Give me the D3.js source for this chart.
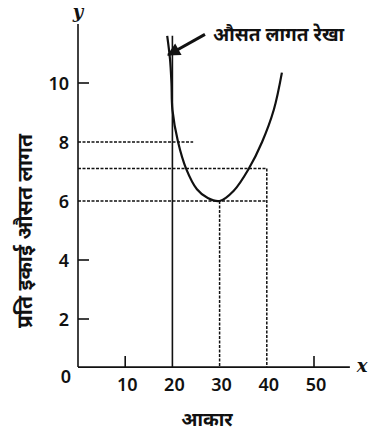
<!DOCTYPE html>
<html>
<head>
<meta charset="utf-8">
<script src="https://cdn.jsdelivr.net/npm/d3@7"></script>
<style>
  body { margin: 0; background: #fff; }
  svg { display: block; }
</style>
</head>
<body>
<svg id="chart"></svg>
<script>
// average cost curve (size, cost per unit)
const curveX = [18.9, 19.5, 19.8, 20.0, 21.2, 22.9, 25.2, 27.5, 30, 33, 36.2, 39.0, 41.5, 43.2];
const curveY = [11.6, 10.8, 10.0, 9.1, 8.0, 7.1, 6.4, 6.1, 6.0, 6.35, 7.1, 8.0, 9.1, 10.35];

const xTicks = [10, 20, 30, 40, 50];
const yTicks = [2, 4, 6, 8, 10];

// guide lines: [yValue, xEnd]
const hGuides = [[8, 24.4], [7.1, 40], [6, 40]];
// vertical guides: [xValue, yTop]
const vGuides = [[30, 6], [40, 7.1]];
const solidX = 20;

const curveLabel = "औसत लागत रेखा";
const xTitle = "आकार";
const yTitle = "प्रति इकाई औसत लागत";

const width = 380, height = 437;
const svg = d3.select("#chart").attr("width", width).attr("height", height);

const x = d3.scaleLinear().domain([0, 50]).range([78, 314]);
const y = d3.scaleLinear().domain([0, 12]).range([378, 24]);
const yBase = 0.37; // where the x axis sits
const xEnd = 57.6;

const ink = "#111";
const numFont = "'Noto Sans', sans-serif";

// axes
svg.append("line")
  .attr("x1", x(0)).attr("x2", x(0))
  .attr("y1", y(12)).attr("y2", y(yBase))
  .attr("stroke", ink).attr("stroke-width", 1.6);
svg.append("line")
  .attr("x1", x(0)).attr("x2", x(xEnd))
  .attr("y1", y(yBase)).attr("y2", y(yBase))
  .attr("stroke", ink).attr("stroke-width", 1.6);

// y ticks and labels
yTicks.forEach(t => {
  if (t !== 6 && t !== 8) {
    svg.append("line")
      .attr("x1", x(0)).attr("x2", x(0) + 11)
      .attr("y1", y(t)).attr("y2", y(t))
      .attr("stroke", ink).attr("stroke-width", 1.6);
  }
  svg.append("text")
    .attr("x", 69).attr("y", y(t))
    .attr("text-anchor", "end")
    .attr("dominant-baseline", "central")
    .style("font-family", numFont).style("font-size", "18px")
    .style("font-weight", "600").attr("fill", ink)
    .text(t);
});

// x ticks and labels
xTicks.forEach(t => {
  if (t === 10 || t === 50) {
    svg.append("line")
      .attr("x1", x(t)).attr("x2", x(t))
      .attr("y1", y(yBase)).attr("y2", y(yBase) - 11)
      .attr("stroke", ink).attr("stroke-width", 1.6);
  }
  svg.append("text")
    .attr("x", x(t) + 2).attr("y", 391)
    .attr("text-anchor", "middle")
    .style("font-family", numFont).style("font-size", "18px")
    .style("font-weight", "600").attr("fill", ink)
    .text(t);
});

svg.append("text")
  .attr("x", 66).attr("y", 383)
  .attr("text-anchor", "middle")
  .style("font-family", numFont).style("font-size", "18px")
  .style("font-weight", "600").attr("fill", ink)
  .text("0");

// axis letters
svg.append("text")
  .attr("x", x(0)).attr("y", 18)
  .attr("text-anchor", "middle")
  .style("font-family", "'DejaVu Serif', serif").style("font-style", "italic")
  .style("font-weight", "bold").style("font-size", "18px").attr("fill", ink)
  .text("y");
svg.append("text")
  .attr("x", 362).attr("y", y(yBase) + 5)
  .attr("text-anchor", "middle")
  .style("font-family", "'DejaVu Serif', serif").style("font-style", "italic")
  .style("font-weight", "bold").style("font-size", "18px").attr("fill", ink)
  .text("x");

// dashed guides
hGuides.forEach(([v, e]) => {
  svg.append("line")
    .attr("x1", x(0)).attr("x2", x(e))
    .attr("y1", y(v)).attr("y2", y(v))
    .attr("stroke", ink).attr("stroke-width", 1.5)
    .attr("stroke-dasharray", "3,1.5");
});
vGuides.forEach(([v, top]) => {
  svg.append("line")
    .attr("x1", x(v)).attr("x2", x(v))
    .attr("y1", y(top)).attr("y2", y(yBase))
    .attr("stroke", ink).attr("stroke-width", 1.5)
    .attr("stroke-dasharray", "3,1.5");
});

// solid vertical at 20
svg.append("line")
  .attr("x1", x(solidX)).attr("x2", x(solidX))
  .attr("y1", y(curveY[0])).attr("y2", y(yBase))
  .attr("stroke", ink).attr("stroke-width", 1.6);

// curve
const pts = curveX.map((v, i) => [v, curveY[i]]);
svg.append("path")
  .datum(pts)
  .attr("fill", "none")
  .attr("stroke", ink)
  .attr("stroke-width", 2.2)
  .attr("d", d3.line()
    .x(d => x(d[0]))
    .y(d => y(d[1]))
    .curve(d3.curveCatmullRom));

// arrow annotation
svg.append("defs").append("marker")
  .attr("id", "head")
  .attr("viewBox", "0 0 10 10")
  .attr("refX", 9).attr("refY", 5)
  .attr("markerUnits", "userSpaceOnUse")
  .attr("markerWidth", 17).attr("markerHeight", 13)
  .attr("orient", "auto")
  .append("path").attr("d", "M0,0 L10,5 L0,10 Z").attr("fill", ink);

svg.append("line")
  .attr("x1", x(26.9)).attr("y1", y(11.65))
  .attr("x2", x(19.1)).attr("y2", y(10.95))
  .attr("stroke", ink).attr("stroke-width", 3)
  .attr("marker-end", "url(#head)");

svg.append("text")
  .attr("x", x(28.6)).attr("y", 41)
  .style("font-family", "'Noto Sans', sans-serif").style("font-size", "19px")
  .style("font-weight", "bold").attr("fill", ink)
  .text(curveLabel);

// axis titles
svg.append("text")
  .attr("x", 207).attr("y", 426)
  .attr("text-anchor", "middle")
  .style("font-family", "'Noto Sans', sans-serif").style("font-size", "19px")
  .style("font-weight", "bold").attr("fill", ink)
  .text(xTitle);

svg.append("text")
  .attr("transform", `translate(32, 231) rotate(-90)`)
  .attr("text-anchor", "middle")
  .style("font-family", "'Noto Sans', sans-serif").style("font-size", "21px")
  .style("font-weight", "bold").attr("fill", ink)
  .text(yTitle);
</script>
</body>
</html>
